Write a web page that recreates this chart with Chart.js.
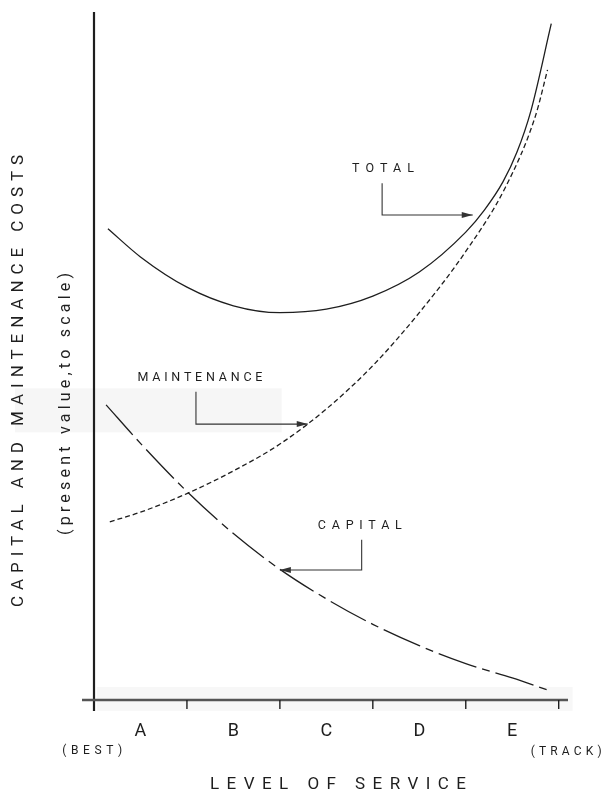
<!DOCTYPE html>
<html>
<head>
<meta charset="utf-8">
<script src="https://cdn.jsdelivr.net/npm/chart.js@4"></script>
<style>
  html, body { margin: 0; padding: 0; background: #fff; }
  #wrap { width: 607px; height: 795px; }
</style>
</head>
<body>
<div id="wrap"><canvas id="chart"></canvas></div>
<script>
// Level of service positions (0 = best ... 5 = track) and cost values
const serviceLevels = ['A', 'B', 'C', 'D', 'E'];
const levelTicks = [1, 2, 3, 4, 5];

const totalX = [0.15, 0.5, 1.0, 1.5, 2.0, 2.5, 3.0, 3.5, 4.0, 4.2, 4.4, 4.55, 4.7, 4.92];
const totalY = [68.5, 64.4, 60.0, 57.3, 56.3, 56.8, 58.7, 62.2, 68.0, 71.2, 75.3, 79.6, 85.6, 98.3];

const maintX = [0.17, 0.5, 1.0, 1.5, 2.0, 2.5, 3.0, 3.5, 4.0, 4.43, 4.75, 4.88];
const maintY = [25.9, 27.3, 30.0, 33.3, 37.2, 42.3, 48.6, 56.3, 65.2, 74.6, 84.9, 91.6];

const capitalX = [0.13, 0.5, 1.0, 1.5, 2.0, 2.5, 3.0, 3.5, 4.0, 4.5, 4.87];
const capitalY = [42.9, 37.3, 30.3, 24.2, 19.0, 14.7, 11.0, 7.9, 5.3, 3.2, 1.5];

// Callouts: label, label position, elbow start, elbow corner, arrow tip
const calloutLabels = ['TOTAL', 'MAINTENANCE', 'CAPITAL'];
const calloutLabelPos = [[3.11, 77.2], [1.14, 46.8], [2.86, 25.3]];
const calloutLabelWidth = [62, 125, 84];
const calloutStart = [[3.10, 75.1], [1.097, 44.8], [2.88, 23.3]];
const calloutCorner = [[3.10, 70.5], [1.097, 40.1], [2.88, 18.9]];
const calloutTip = [[4.075, 70.5], [2.30, 40.1], [2.00, 18.9]];

const INK = '#1e1e1e';
const FONT = 'Roboto, "DejaVu Sans", sans-serif';

function toPoints(xs, ys) {
    return xs.map((x, i) => ({ x: x, y: ys[i] }));
}

// draw text centred at (x, y), spread to a given width like stencil lettering
function spacedText(ctx, text, x, y, size, width, rotate) {
    ctx.save();
    ctx.font = `400 ${size}px ${FONT}`;
    ctx.letterSpacing = '0px';
    const raw = ctx.measureText(text).width;
    const w = Math.max(width, raw);
    const gap = Math.max(0, (w - raw) / Math.max(1, text.length - 1));
    ctx.letterSpacing = gap + 'px';
    ctx.fillStyle = INK;
    ctx.textAlign = 'left';
    ctx.textBaseline = 'middle';
    ctx.translate(x, y);
    if (rotate) ctx.rotate(-Math.PI / 2);
    ctx.fillText(text, -w / 2, 0);
    ctx.restore();
}

function arrowHead(ctx, x, y, dir) {
    ctx.beginPath();
    ctx.moveTo(x, y);
    ctx.lineTo(x - dir * 11, y - 3);
    ctx.lineTo(x - dir * 11, y + 3);
    ctx.closePath();
    ctx.fill();
}

const diagramPlugin = {
    id: 'diagram',
    beforeDraw(chart) {
        const ctx = chart.ctx;
        const xs = chart.scales.x, ys = chart.scales.y;
        // faint scan bands of the original figure
        ctx.save();
        ctx.fillStyle = 'rgba(0,0,0,0.035)';
        ctx.fillRect(15, ys.getPixelForValue(45.3), xs.getPixelForValue(2.02) - 15,
            ys.getPixelForValue(38.9) - ys.getPixelForValue(45.3));
        ctx.fillStyle = 'rgba(0,0,0,0.03)';
        ctx.fillRect(xs.getPixelForValue(0.03), ys.getPixelForValue(1.9),
            xs.getPixelForValue(5.15) - xs.getPixelForValue(0.03), 24);
        ctx.restore();
    },
    afterDraw(chart) {
        const ctx = chart.ctx;
        const xs = chart.scales.x, ys = chart.scales.y;
        const x0 = xs.getPixelForValue(0);
        const y0 = ys.getPixelForValue(0);

        ctx.save();
        ctx.strokeStyle = INK;
        ctx.fillStyle = INK;

        // axes
        ctx.lineWidth = 2.2;
        ctx.beginPath();
        ctx.moveTo(x0, ys.getPixelForValue(100));
        ctx.lineTo(x0, y0 + 11);
        ctx.stroke();
        ctx.strokeStyle = '#555';
        ctx.lineWidth = 2.4;
        ctx.beginPath();
        ctx.moveTo(x0 - 12, y0);
        ctx.lineTo(xs.getPixelForValue(5.1), y0);
        ctx.stroke();
        ctx.strokeStyle = INK;
        ctx.lineWidth = 1.4;
        levelTicks.forEach(v => {
            const px = xs.getPixelForValue(v);
            ctx.beginPath();
            ctx.moveTo(px, y0);
            ctx.lineTo(px, y0 + 9);
            ctx.stroke();
        });

        // level letters between the ticks
        serviceLevels.forEach((lab, i) => {
            spacedText(ctx, lab, xs.getPixelForValue(i + 0.5), 731, 18, 0, false);
        });
        spacedText(ctx, '(BEST)', xs.getPixelForValue(-0.02), 751, 12, 60, false);
        spacedText(ctx, '(TRACK)', xs.getPixelForValue(5.08), 752, 12, 71, false);
        spacedText(ctx, 'LEVEL OF SERVICE', 338, 785, 17, 256, false);

        // y axis titles
        spacedText(ctx, 'CAPITAL AND MAINTENANCE COSTS', 19, 381, 17, 452, true);
        spacedText(ctx, '(present value,to scale)', 66, 404, 16, 262, true);

        // callouts
        ctx.lineWidth = 1.1;
        calloutLabels.forEach((lab, i) => {
            spacedText(ctx, lab, xs.getPixelForValue(calloutLabelPos[i][0]),
                ys.getPixelForValue(calloutLabelPos[i][1]), 12.5, calloutLabelWidth[i], false);
            const sx = xs.getPixelForValue(calloutStart[i][0]);
            const sy = ys.getPixelForValue(calloutStart[i][1]);
            const cx = xs.getPixelForValue(calloutCorner[i][0]);
            const cy = ys.getPixelForValue(calloutCorner[i][1]);
            const tx = xs.getPixelForValue(calloutTip[i][0]);
            const ty = ys.getPixelForValue(calloutTip[i][1]);
            ctx.strokeStyle = '#333';
            ctx.beginPath();
            ctx.moveTo(sx, sy);
            ctx.lineTo(cx, cy);
            ctx.lineTo(tx, ty);
            ctx.stroke();
            ctx.fillStyle = '#333';
            arrowHead(ctx, tx, ty, tx > cx ? 1 : -1);
        });
        ctx.restore();
    }
};

const ctx = document.getElementById('chart').getContext('2d');
new Chart(ctx, {
    type: 'line',
    data: {
        datasets: [
            {
                label: 'Total',
                data: toPoints(totalX, totalY),
                borderColor: INK,
                borderWidth: 1.3,
                pointRadius: 0,
                cubicInterpolationMode: 'monotone'
            },
            {
                label: 'Maintenance',
                data: toPoints(maintX, maintY),
                borderColor: INK,
                borderWidth: 1.3,
                borderDash: [5, 3],
                pointRadius: 0,
                cubicInterpolationMode: 'monotone'
            },
            {
                label: 'Capital',
                data: toPoints(capitalX, capitalY),
                borderColor: INK,
                borderWidth: 1.3,
                borderDash: [40, 6, 8, 6],
                pointRadius: 0,
                cubicInterpolationMode: 'monotone'
            }
        ]
    },
    options: {
        responsive: true,
        maintainAspectRatio: false,
        animation: false,
        layout: {
            padding: { left: 94, right: 39, top: 12, bottom: 95 }
        },
        scales: {
            x: { type: 'linear', min: 0, max: 5.1, display: false },
            y: { type: 'linear', min: 0, max: 100, display: false }
        },
        plugins: {
            legend: { display: false },
            tooltip: { enabled: false }
        }
    },
    plugins: [diagramPlugin]
});
</script>
</body>
</html>
